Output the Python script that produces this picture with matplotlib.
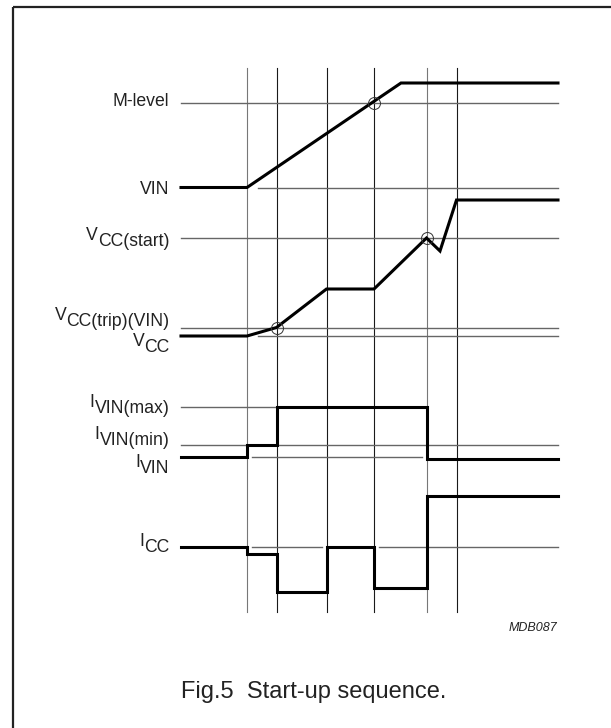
import matplotlib
matplotlib.use('Agg')
import matplotlib.pyplot as plt

plt.rcParams['font.family'] = ['Liberation Sans', 'DejaVu Sans']

# sheet coordinates (x to the right, y downwards)
x_start, x_end = 181, 558
t_marks = [247, 276.5, 326.5, 374, 426.5, 456.5]
grey_marks = [247, 426.5]
mark_top, mark_bottom = 68, 612

# reference levels: (y, x from, x to)
ref_lines = [
    (103, 181, 558),    # M-level
    (187.5, 258, 558),  # VIN
    (238.3, 181, 558),  # VCC(start)
    (327.5, 181, 558),  # VCC(trip)(VIN)
    (336, 258, 558),    # VCC
    (407.3, 181, 427),  # IVIN(max)
    (445, 181, 558),    # IVIN(min)
    (456.7, 252, 422),  # IVIN
    (547, 181, 247),    # ICC
    (547, 252, 322),
    (547, 379, 558),
]

# waveforms
vin_x = [181, 247, 401, 558]
vin_y = [187.5, 187.5, 83, 83]

vcc_x = [181, 247, 276.5, 326.5, 374, 426.5, 440, 456.5, 558]
vcc_y = [336, 336, 327.5, 289, 289, 238, 251, 200, 200]

ivin_x = [181, 247, 247, 276.5, 276.5, 426.5, 426.5, 558]
ivin_y = [457, 457, 445, 445, 407, 407, 458.5, 458.5]

icc_x = [181, 247, 247, 276.5, 276.5, 326.5, 326.5, 374, 374, 426.5, 426.5, 558]
icc_y = [547, 547, 554, 554, 591.5, 591.5, 547, 547, 588, 588, 496, 496]

# crossing markers
circ_x = [374, 276.5, 426.5]
circ_y = [103, 327.5, 238]

# labels: main text, subscript, main baseline
labels = [
    ('M-level', '', 106),
    ('VIN', '', 194),
    ('V', 'CC(start)', 239.5),
    ('V', 'CC(trip)(VIN)', 320.5),
    ('V', 'CC', 346.5),
    ('I', 'VIN(max)', 406.7),
    ('I', 'VIN(min)', 439),
    ('I', 'VIN', 467.3),
    ('I', 'CC', 545.7),
]
label_right = 169.5
sub_drop = 6

fig = plt.figure(figsize=(6.11, 7.28), dpi=100)
ax = fig.add_axes([0, 0, 1, 1])
ax.set_xlim(0, 611)
ax.set_ylim(728, 0)
ax.axis('off')

# frame (top and left only)
ax.plot([12.5, 611], [7, 7], color='#222222', lw=1.6, solid_capstyle='butt')
ax.plot([12.5, 12.5], [7, 728], color='#222222', lw=1.6, solid_capstyle='butt')

for x in t_marks:
    c = '#777777' if x in grey_marks else '#1a1a1a'
    ax.plot([x, x], [mark_top, mark_bottom], color=c, lw=0.8)

for y, xa, xb in ref_lines:
    ax.plot([xa, xb], [y, y], color='#666666', lw=1.0)

for xs, ys in [(vin_x, vin_y), (vcc_x, vcc_y), (ivin_x, ivin_y), (icc_x, icc_y)]:
    ax.plot(xs, ys, color='black', lw=2.2, solid_joinstyle='miter')

ax.plot(circ_x, circ_y, 'o', ms=8.6, mfc='none', mec='#333333', mew=0.7)

fs = 12.7
for main, sub, yb in labels:
    if not sub:
        ax.text(label_right, yb, main, fontsize=fs, ha='right', va='baseline', color='#222222')
        continue
    st = ax.text(label_right, yb + sub_drop, sub, fontsize=fs, ha='right', va='baseline', color='#222222')
    ax.annotate(main, xy=(0, yb), xycoords=(st, 'data'), fontsize=fs,
                ha='right', va='baseline', color='#222222')

ax.text(557, 631, 'MDB087', fontsize=9, style='italic', ha='right', va='baseline', color='#222222')
ax.text(314, 697.7, 'Fig.5  Start-up sequence.', fontsize=17, ha='center', va='baseline', color='#222222')

fig.savefig('out.png', dpi=100)
